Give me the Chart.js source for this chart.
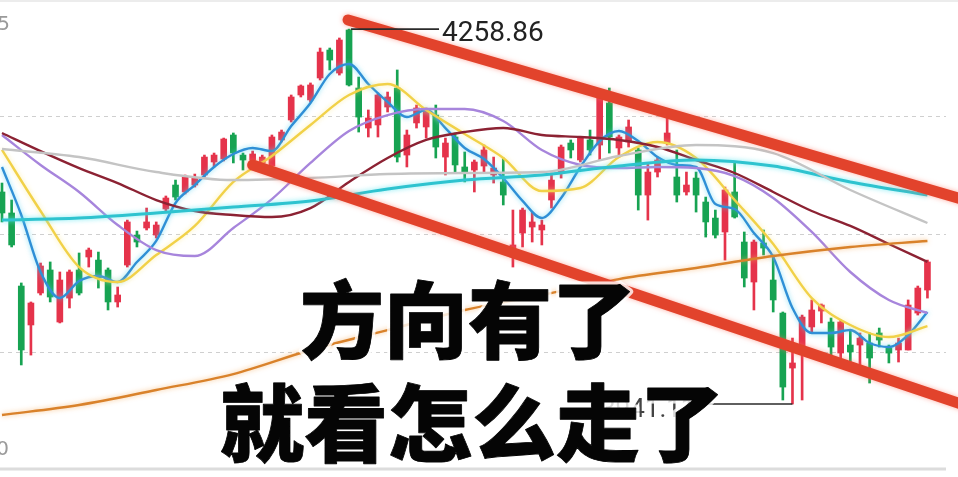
<!DOCTYPE html>
<html>
<head>
<meta charset="utf-8">
<script src="https://cdn.jsdelivr.net/npm/chart.js@4.4.1/dist/chart.umd.min.js"></script>
<style>
  html, body { margin: 0; padding: 0; background: #fff; }
  #wrap { width: 958px; height: 477px; }
</style>
</head>
<body>
<div id="wrap"><canvas id="klineChart" width="958" height="477"></canvas></div>
<script>
// daily candles, one entry per session (index = x position)
const opens = [4120.8, 4103.0, 4041.1, 4008.1, 4035.2, 4054.7, 4010.6, 4030.9, 4054.7, 4065.7,
  4063.1, 4054.7, 4027.6, 4058.9, 4084.3, 4090.3, 4084.3, 4106.4, 4126.7, 4120.8,
  4126.7, 4135.2, 4146.2, 4148.7, 4169.1, 4152.1, 4147.9, 4145.4, 4142.8, 4164.9,
  4181.8, 4203.0, 4198.8, 4217.4, 4241.1, 4221.6, 4258.1, 4208.9, 4175.0, 4177.6,
  4192.8, 4208.9, 4152.1, 4179.3, 4175.9, 4186.0, 4150.4, 4167.4, 4142.0, 4139.4,
  4142.8, 4135.2, 4129.3, 4065.7, 4086.0, 4091.1, 4088.6, 4114.0, 4137.7, 4162.3,
  4147.9, 4164.9, 4160.6, 4196.2, 4158.1, 4163.2, 4156.4, 4118.2, 4137.7, 4162.3,
  4133.5, 4120.8, 4132.6, 4112.3, 4098.7, 4086.9, 4120.8, 4078.4, 4044.5, 4077.6,
  4046.2, 4018.2, 3971.6, 3986.9, 4006.4, 4019.9, 4010.6, 3984.3, 3991.1, 3991.1,
  3992.8, 4001.3, 3988.6, 3986.9, 3986.9, 4018.2, 4037.7];
const highs = [4128.4, 4114.0, 4043.7, 4027.6, 4060.6, 4061.5, 4053.0, 4054.7, 4069.1, 4073.3,
  4069.9, 4056.4, 4040.3, 4097.0, 4087.7, 4107.2, 4095.4, 4117.4, 4130.9, 4135.2,
  4136.0, 4152.1, 4153.8, 4166.5, 4170.8, 4153.8, 4155.5, 4152.1, 4169.1, 4173.3,
  4203.0, 4211.5, 4213.2, 4242.8, 4242.8, 4251.3, 4258.86, 4218.2, 4190.3, 4204.7,
  4205.5, 4224.2, 4173.3, 4194.5, 4192.0, 4194.5, 4166.5, 4170.8, 4154.7, 4147.9,
  4160.6, 4150.4, 4149.6, 4105.5, 4107.2, 4103.8, 4097.0, 4136.9, 4160.6, 4164.9,
  4167.4, 4173.3, 4201.3, 4208.9, 4169.1, 4181.8, 4158.1, 4145.4, 4150.4, 4183.5,
  4156.4, 4137.7, 4137.7, 4116.5, 4105.5, 4125.0, 4146.2, 4086.9, 4080.1, 4088.6,
  4067.4, 4019.1, 3997.0, 4016.5, 4029.3, 4025.9, 4014.0, 4012.3, 4003.8, 4001.3,
  4001.3, 4005.5, 3991.1, 3997.0, 4029.3, 4041.1, 4063.1];
const lows = [4095.4, 4074.2, 3974.2, 3982.6, 4033.5, 4027.6, 4009.8, 4022.5, 4033.5, 4057.2,
  4039.4, 4020.8, 4023.3, 4057.2, 4074.2, 4088.6, 4081.8, 4103.8, 4114.0, 4119.1,
  4125.0, 4133.5, 4142.0, 4147.1, 4145.4, 4139.4, 4146.2, 4142.0, 4141.1, 4163.2,
  4180.1, 4201.3, 4197.1, 4215.7, 4224.2, 4219.9, 4210.6, 4171.6, 4167.4, 4167.4,
  4188.6, 4146.2, 4142.0, 4175.0, 4166.5, 4149.6, 4135.2, 4136.9, 4129.3, 4120.8,
  4136.9, 4128.4, 4109.8, 4057.2, 4074.2, 4078.4, 4075.9, 4107.2, 4132.6, 4149.6,
  4146.2, 4152.1, 4147.9, 4153.8, 4150.4, 4158.9, 4105.5, 4097.0, 4133.5, 4160.6,
  4112.3, 4118.2, 4103.8, 4082.6, 4081.8, 4063.1, 4098.7, 4040.3, 4020.8, 4067.4,
  4019.1, 3944.5, 3941.11, 3944.5, 4002.1, 4009.8, 3982.6, 3978.4, 3975.9, 3972.5,
  3958.9, 3989.4, 3975.9, 3976.7, 3986.9, 4016.5, 4030.9];
const closes = [4103.0, 4075.9, 3986.9, 4026.7, 4058.1, 4031.8, 4046.2, 4053.0, 4035.2, 4071.6,
  4047.9, 4027.6, 4033.5, 4095.4, 4078.4, 4095.4, 4092.8, 4115.7, 4116.5, 4133.5,
  4132.6, 4150.4, 4152.1, 4165.7, 4153.8, 4147.9, 4153.0, 4150.4, 4167.4, 4171.6,
  4201.3, 4210.6, 4211.5, 4239.4, 4232.6, 4249.6, 4211.5, 4184.3, 4183.5, 4203.0,
  4201.3, 4150.4, 4169.1, 4192.0, 4190.3, 4158.9, 4162.3, 4143.7, 4136.9, 4146.2,
  4156.4, 4141.1, 4118.2, 4075.9, 4105.5, 4095.4, 4092.8, 4130.9, 4158.9, 4156.4,
  4166.5, 4156.4, 4200.4, 4167.4, 4167.4, 4175.9, 4118.2, 4137.7, 4147.9, 4170.8,
  4118.2, 4126.7, 4118.2, 4095.4, 4084.3, 4122.5, 4099.6, 4047.9, 4078.4, 4073.3,
  4029.3, 3955.5, 3975.9, 4014.8, 4020.8, 4025.0, 3989.4, 4010.6, 3985.2, 3997.0,
  3980.1, 3995.3, 3984.3, 3992.8, 4025.0, 4039.4, 4061.5];

// moving averages at every 2nd / 4th / 8th session
const fastIdx = Array.from({ length: 49 }, (_, k) => k * 2);
const midIdx = Array.from({ length: 25 }, (_, k) => k * 4);
const slowIdx = Array.from({ length: 13 }, (_, k) => k * 8);

const ma5 = [4142.0, 4101.3, 4053.0, 4030.9, 4045.4, 4049.6, 4044.5, 4061.5, 4079.3, 4111.5,
  4126.7, 4142.0, 4153.0, 4158.1, 4155.5, 4176.7, 4196.2, 4220.8, 4229.3, 4212.3,
  4197.1, 4184.3, 4190.3, 4175.0, 4158.1, 4148.7, 4132.6, 4113.2, 4098.7, 4115.7,
  4142.0, 4164.0, 4172.5, 4164.0, 4150.4, 4143.7, 4142.0, 4110.6, 4106.4, 4086.0,
  4065.7, 4022.5, 4001.3, 4001.3, 4003.8, 3992.8, 3989.4, 3999.6, 4019.1];
const ma10 = [4156.4, 4104.7, 4057.2, 4044.5, 4067.4, 4092.0, 4129.3, 4151.3, 4177.6, 4203.0,
  4212.3, 4190.3, 4169.9, 4149.6, 4121.6, 4124.2, 4150.4, 4163.2, 4149.6, 4114.0,
  4076.7, 4030.9, 4008.1, 3997.9, 4007.2];
const ma20 = [4169.1, 4143.7, 4120.8, 4092.8, 4071.6, 4066.5, 4090.3, 4114.8, 4145.4, 4172.5,
  4186.0, 4191.1, 4191.1, 4181.0, 4156.4, 4143.7, 4141.1, 4142.0, 4141.1, 4134.3,
  4115.7, 4086.9, 4053.0, 4029.3, 4018.2];
const ma60 = [4170.8, 4155.5, 4141.1, 4128.4, 4114.0, 4104.7, 4101.3, 4099.6, 4107.2, 4129.3,
  4149.6, 4164.9, 4171.6, 4175.0, 4169.1, 4167.4, 4164.9, 4158.9, 4147.9, 4136.9,
  4120.8, 4104.7, 4092.0, 4076.7, 4061.5];
const ma120 = [4157.2, 4150.4, 4137.7, 4130.9, 4132.6, 4136.0, 4136.9, 4137.7, 4151.3, 4160.6,
  4153.8, 4122.5, 4094.5];
const ma90 = [4097.0, 4098.7, 4103.0, 4108.1, 4113.2, 4123.3, 4130.9, 4135.2, 4142.8, 4147.9,
  4142.8, 4129.3, 4118.2];
const ma250 = [3931.8, 3940.3, 3953.0, 3966.5, 3986.9, 4003.8, 4020.8, 4033.5, 4047.0, 4056.4,
  4066.5, 4074.2, 4079.3];

// hand-drawn channel (session index, price)
const upperTrendX = [35.9, 100];
const upperTrendY = [4266.6, 4113.7];
const lowerTrendX = [26.0, 100];
const lowerTrendY = [4143.7, 3939.7];

const gridValues = [4185, 4085, 3985];
const edgeLabels = ['4285', '3900'];
const captionLines = ['方向有了', '就看怎么走了'];

const RED = '#e5334b';
const GREEN = '#17a352';

const isUp = closes.map((c, i) => c >= opens[i]);
const candleColors = isUp.map(u => u ? RED : GREEN);

const pts = (xs, ys) => xs.map((x, k) => ({ x: x, y: ys[k] }));

function maLine(idx, values, color, glow, width) {
    return {
        type: 'line',
        data: pts(idx, values),
        borderColor: color,
        borderWidth: width || 2.4,
        pointRadius: 0,
        cubicInterpolationMode: 'monotone',
        glow: glow,
        order: 5
    };
}

function trendLine(xs, ys) {
    return {
        type: 'line',
        data: pts(xs, ys),
        borderColor: '#e2432c',
        borderWidth: 11,
        borderCapStyle: 'round',
        pointRadius: 0,
        tension: 0,
        glow: 'rgba(255, 110, 90, 0.55)',
        order: 1
    };
}

const glowPlugin = {
    id: 'glow',
    beforeDatasetDraw(chart, args) {
        const ds = chart.data.datasets[args.index];
        if (!ds.glow) return;
        chart.ctx.save();
        chart.ctx.shadowColor = ds.glow;
        chart.ctx.shadowBlur = 5;
    },
    afterDatasetDraw(chart, args) {
        const ds = chart.data.datasets[args.index];
        if (ds.glow) chart.ctx.restore();
    }
};

const gridPlugin = {
    id: 'dashGrid',
    beforeDatasetsDraw(chart) {
        const { ctx, scales: { y } } = chart;
        ctx.save();
        ctx.strokeStyle = '#cfcfcf';
        ctx.lineWidth = 1;
        ctx.setLineDash([4, 4]);
        gridValues.forEach(v => {
            const py = Math.round(y.getPixelForValue(v)) + 0.5;
            ctx.beginPath();
            ctx.moveTo(0, py);
            ctx.lineTo(946, py);
            ctx.stroke();
        });
        ctx.setLineDash([]);
        // frame lines
        ctx.strokeStyle = '#dcdcdc';
        ctx.lineWidth = 3;
        ctx.beginPath();
        ctx.moveTo(0, 469);
        ctx.lineTo(946, 469);
        ctx.stroke();
        ctx.strokeStyle = '#ececec';
        ctx.lineWidth = 2;
        ctx.beginPath();
        ctx.moveTo(0, 1);
        ctx.lineTo(958, 1);
        ctx.stroke();
        // clipped price labels on the left edge
        ctx.fillStyle = '#9a9a9a';
        ctx.font = '20px "DejaVu Sans"';
        ctx.textAlign = 'right';
        ctx.textBaseline = 'middle';
        ctx.fillText(edgeLabels[0], 10, 25);
        ctx.fillText(edgeLabels[1], 9, 450);
        ctx.restore();
    }
};

const markPlugin = {
    id: 'marks',
    afterDatasetsDraw(chart) {
        const { ctx, scales: { x, y } } = chart;
        const hiIdx = highs.indexOf(Math.max(...highs));
        const loIdx = lows.indexOf(Math.min(...lows));
        ctx.save();
        ctx.strokeStyle = '#2a2a2a';
        ctx.lineWidth = 1.6;
        ctx.fillStyle = '#222';
        ctx.font = '28px Roboto';
        ctx.textBaseline = 'middle';

        const hx = x.getPixelForValue(hiIdx), hy = y.getPixelForValue(highs[hiIdx]);
        ctx.beginPath();
        ctx.moveTo(hx + 2, hy);
        ctx.lineTo(hx + 90, hy);
        ctx.stroke();
        ctx.textAlign = 'left';
        ctx.fillText(highs[hiIdx].toFixed(2), hx + 93, hy + 5);

        const lx = x.getPixelForValue(loIdx), ly = y.getPixelForValue(lows[loIdx]);
        ctx.beginPath();
        ctx.moveTo(lx, ly);
        ctx.lineTo(lx - 95, ly);
        ctx.stroke();
        ctx.fillStyle = '#444';
        ctx.font = '26px Roboto';
        ctx.textAlign = 'right';
        ctx.fillText(lows[loIdx].toFixed(2), lx - 97, ly + 6);
        ctx.restore();
    },
    afterDraw(chart) {
        const ctx = chart.ctx;
        ctx.save();
        ctx.font = '900 84px "Noto Sans CJK SC"';
        ctx.textAlign = 'center';
        ctx.textBaseline = 'middle';
        ctx.lineJoin = 'round';
        const spots = [[468, 320], [472, 423]];
        captionLines.forEach((t, k) => {
            const [cx, cy] = spots[k];
            ctx.strokeStyle = 'rgba(255, 255, 255, 0.8)';
            ctx.lineWidth = 7;
            ctx.strokeText(t, cx, cy);
            ctx.fillStyle = '#050505';
            ctx.fillText(t, cx, cy);
            ctx.strokeStyle = '#050505';
            ctx.lineWidth = 0.8;
            ctx.strokeText(t, cx, cy);
        });
        ctx.restore();
    }
};

const wickData = lows.map((l, i) => ({ x: i, y: [l, highs[i]] }));
const bodyData = opens.map((o, i) => ({ x: i, y: [o, closes[i]] }));

new Chart(document.getElementById('klineChart'), {
    type: 'bar',
    data: {
        datasets: [
            {
                data: wickData,
                backgroundColor: candleColors,
                barThickness: 2,
                grouped: false,
                borderWidth: 0,
                order: 10
            },
            {
                data: bodyData,
                backgroundColor: candleColors,
                barThickness: 6,
                grouped: false,
                borderWidth: 0,
                minBarLength: 1,
                order: 9
            },
            maLine(slowIdx, ma250, '#d9822b', 'rgba(245, 170, 90, 0.7)'),
            maLine(slowIdx, ma120, '#c4c4c4', null),
            maLine(slowIdx, ma90, '#2ec3cf', 'rgba(90, 230, 240, 0.8)', 3),
            maLine(midIdx, ma60, '#8c2233', null),
            maLine(midIdx, ma20, '#a785dc', null),
            maLine(midIdx, ma10, '#f1d148', 'rgba(250, 230, 120, 0.6)'),
            maLine(fastIdx, ma5, '#2f8fd6', 'rgba(80, 210, 240, 0.7)'),
            trendLine(upperTrendX, upperTrendY),
            trendLine(lowerTrendX, lowerTrendY)
        ]
    },
    options: {
        responsive: false,
        animation: false,
        layout: { padding: { top: 0, left: 0, right: 0, bottom: 5 } },
        plugins: {
            legend: { display: false },
            tooltip: { enabled: false }
        },
        scales: {
            x: { type: 'linear', min: -0.207, max: 99.17, offset: false, display: false },
            y: { min: 3883.5, max: 4283.5, display: false }
        }
    },
    plugins: [glowPlugin, gridPlugin, markPlugin]
});
</script>
</body>
</html>
